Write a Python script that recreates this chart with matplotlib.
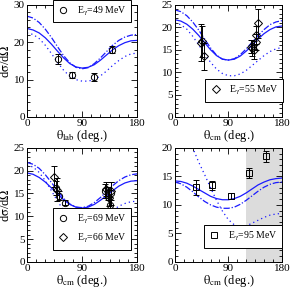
import matplotlib
matplotlib.use("Agg")
import matplotlib.pyplot as plt
from matplotlib.ticker import MultipleLocator

plt.rcParams['font.family'] = ['Liberation Serif', 'DejaVu Serif']
plt.rcParams['mathtext.fontset'] = 'stix'

theta = [0, 10, 20, 30, 40, 50, 60, 70, 80, 90, 100, 110, 120, 130, 140, 150, 160, 170, 180]

# panel a: E=49 MeV (lab)
a_solid = [23.7, 23.3, 22.5, 21.2, 19.5, 17.6, 15.8, 14.3, 13.4, 13.1, 13.3, 14.0, 15.2, 16.6, 18.0, 19.1, 19.9, 20.4, 20.5]
a_dash = [27.0, 26.5, 25.3, 23.5, 21.3, 18.8, 16.4, 14.5, 13.3, 12.9, 13.2, 14.3, 15.8, 17.5, 19.2, 20.5, 21.4, 21.9, 22.1]
a_dot = [22.5, 22.1, 21.0, 19.2, 17.0, 14.6, 12.5, 10.9, 10.0, 9.6, 9.6, 10.0, 11.0, 12.3, 13.8, 15.1, 16.2, 16.9, 17.1]
a_x = [50, 73, 110, 139]
a_y = [15.6, 11.3, 10.7, 18.0]
a_err = [1.3, 0.8, 1.0, 1.0]

# panel b: E=55 MeV
b_solid = [21.7, 21.4, 20.7, 19.6, 18.2, 16.6, 15.0, 13.7, 12.9, 12.7, 12.9, 13.6, 14.7, 16.0, 17.4, 18.6, 19.5, 20.1, 20.3]
b_dash = [23.9, 23.5, 22.6, 21.2, 19.4, 17.4, 15.4, 13.8, 12.9, 12.7, 13.0, 13.9, 15.2, 16.7, 18.2, 19.5, 20.6, 21.2, 21.5]
b_dot = [21.0, 20.6, 19.6, 18.0, 16.1, 14.1, 12.2, 10.7, 9.7, 9.2, 9.2, 9.6, 10.4, 11.5, 12.6, 13.7, 14.6, 15.2, 15.5]
b_x = [44, 46, 49, 128, 129, 133, 136, 137, 139]
b_y = [16.6, 16.9, 13.5, 15.7, 15.3, 15.0, 16.8, 18.3, 20.9]
b_err = [4.2, 3.5, 3.0, 1.5, 1.8, 2.0, 1.8, 2.0, 3.3]

# panel c: E=69 / 66 MeV
c_solid = [19.5, 19.2, 18.5, 17.5, 16.2, 14.9, 13.6, 12.6, 12.0, 11.8, 12.0, 12.6, 13.5, 14.5, 15.6, 16.6, 17.3, 17.7, 17.8]
c_dash = [21.8, 21.4, 20.5, 19.1, 17.4, 15.6, 13.9, 12.7, 12.0, 11.9, 12.2, 13.0, 14.1, 15.4, 16.7, 17.8, 18.6, 19.1, 19.3]
c_dot = [21.2, 20.8, 19.6, 17.8, 15.6, 13.3, 11.3, 9.8, 8.8, 8.3, 8.3, 8.7, 9.4, 10.3, 11.3, 12.2, 12.8, 13.2, 13.3]
c69_x = [47, 52, 62, 127, 132, 135, 138]
c69_y = [16.2, 14.5, 13.0, 15.5, 15.0, 12.5, 15.0]
c69_err = [1.5, 1.0, 0.6, 1.5, 1.5, 1.8, 2.5]
c66_x = [45, 49, 129, 134, 137]
c66_y = [18.7, 15.8, 16.0, 14.0, 15.5]
c66_err = [2.3, 2.5, 1.5, 1.8, 2.0]

# panel d: E=95 MeV
d_solid = [14.2, 14.1, 13.8, 13.3, 12.7, 12.1, 11.5, 11.1, 10.9, 10.9, 11.1, 11.5, 12.1, 12.8, 13.5, 14.0, 14.4, 14.6, 14.7]
d_dash = [14.0, 13.7, 13.1, 12.3, 11.4, 10.6, 10.0, 9.6, 9.4, 9.4, 9.6, 10.1, 10.8, 11.6, 12.4, 13.1, 13.6, 13.9, 14.0]
d_dot = [28.0, 26.0, 23.0, 20.0, 17.5, 15.3, 13.0, 10.8, 8.9, 7.4, 6.5, 6.1, 6.3, 6.8, 7.3, 7.8, 8.2, 8.4, 8.5]
d_x = [36, 63, 94, 125, 154]
d_y = [13.1, 13.4, 11.5, 15.6, 18.5]
d_err = [1.3, 0.8, 0.5, 0.9, 0.9]

blue = '#1a1aff'
fig = plt.figure(figsize=(2.93, 2.91), dpi=100)
pos = [[0.092, 0.598, 0.376, 0.385], [0.597, 0.598, 0.365, 0.385],
       [0.092, 0.100, 0.376, 0.392], [0.597, 0.100, 0.365, 0.392]]
axes = [fig.add_axes(p) for p in pos]


def style(ax, ymax, ymaj, ymin, xlab):
    ax.set_xlim(0, 180)
    ax.set_ylim(0, ymax)
    ax.xaxis.set_major_locator(MultipleLocator(90))
    ax.xaxis.set_minor_locator(MultipleLocator(15))
    ax.yaxis.set_major_locator(MultipleLocator(ymaj))
    ax.yaxis.set_minor_locator(MultipleLocator(ymin))
    ax.tick_params(which='both', direction='in', top=True, right=True, labelsize=8, pad=1.5, width=0.6)
    ax.tick_params(which='major', length=4)
    ax.tick_params(which='minor', length=2)
    for s in ax.spines.values():
        s.set_linewidth(0.7)
    ax.set_xlabel(xlab, fontsize=9, labelpad=0)


def curves(ax, s, d, o):
    ax.plot(theta, s, color=blue, lw=0.9)
    ax.plot(theta, d, color=blue, lw=0.9, dashes=(5, 1.5, 1, 1.5))
    ax.plot(theta, o, color=blue, lw=0.9, dashes=(1, 2.5))


def pts(ax, x, y, e, m):
    c = ax.errorbar(x, y, yerr=e, fmt=m, mfc='none', mec='black', ecolor='black', ms=4.5, mew=0.7,
                    elinewidth=0.7, capsize=2.5, capthick=0.7)
    return c[0]


def leg(ax, handles, labels, anchor):
    lg = ax.legend(handles, labels, loc='lower left', bbox_to_anchor=anchor, fontsize=7, fancybox=False,
                   framealpha=1, edgecolor='black', handlelength=1.2, handletextpad=0.8, borderpad=0.5,
                   labelspacing=0.6)
    lg.get_frame().set_linewidth(0.7)


xl_lab = r'$\mathrm{\theta}_{\rm lab}$ (deg.)'
xl_cm = r'$\mathrm{\theta}_{\rm cm}$ (deg.)'
yl = r'd$\mathrm{\sigma}$/d$\Omega$'

ax = axes[0]
curves(ax, a_solid, a_dash, a_dot)
h = pts(ax, a_x, a_y, a_err, 'o')
style(ax, 30, 10, 2, xl_lab)
ax.set_ylabel(yl, fontsize=9, labelpad=1)
leg(ax, [h], [r'E$_\mathrm{\gamma}$=49 MeV'], (0.19, 0.80))

ax = axes[1]
curves(ax, b_solid, b_dash, b_dot)
h = pts(ax, b_x, b_y, b_err, 'D')
style(ax, 25, 5, 1, xl_cm)
leg(ax, [h], [r'E$_\mathrm{\gamma}$=55 MeV'], (0.234, 0.09))

ax = axes[2]
curves(ax, c_solid, c_dash, c_dot)
h1 = pts(ax, c69_x, c69_y, c69_err, 'o')
h2 = pts(ax, c66_x, c66_y, c66_err, 'D')
style(ax, 25, 5, 1, xl_cm)
ax.set_ylabel(yl, fontsize=9, labelpad=1)
leg(ax, [h1, h2], [r'E$_\mathrm{\gamma}$=69 MeV', r'E$_\mathrm{\gamma}$=66 MeV'], (0.19, 0.06))

ax = axes[3]
ax.axvspan(120, 180, color='#dcdcdc', lw=0, zorder=0)
curves(ax, d_solid, d_dash, d_dot)
h = pts(ax, d_x, d_y, d_err, 's')
style(ax, 20, 5, 1, xl_cm)
leg(ax, [h], [r'E$_\mathrm{\gamma}$=95 MeV'], (0.224, 0.08))

fig.savefig('out.png', dpi=100)
